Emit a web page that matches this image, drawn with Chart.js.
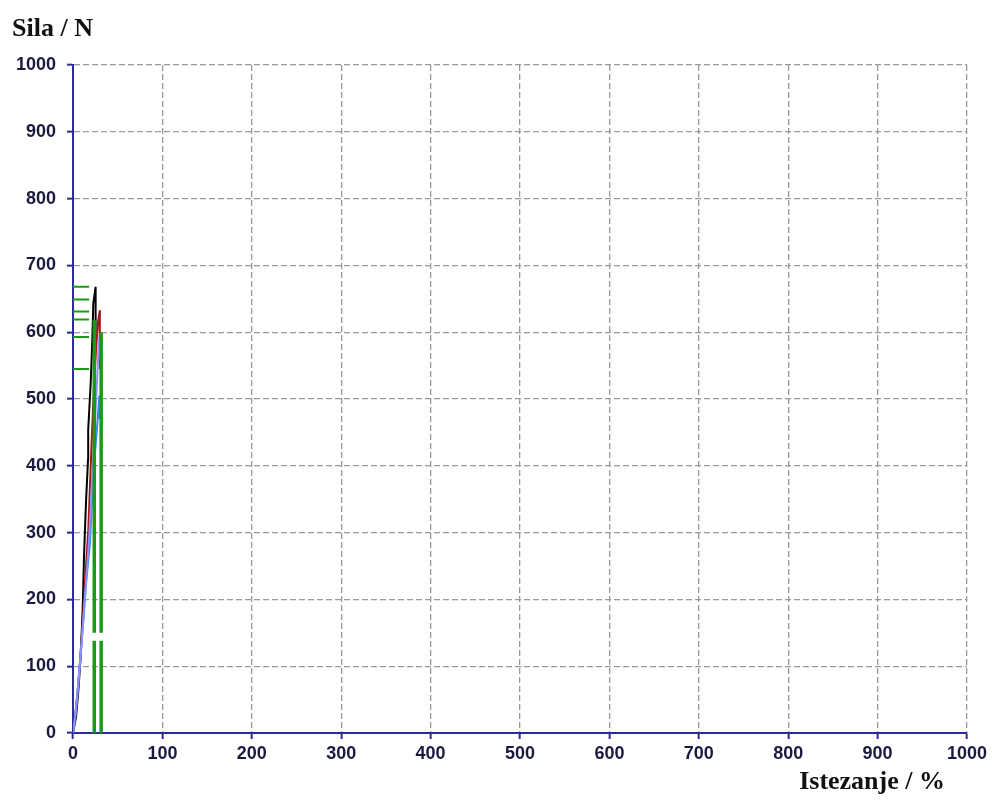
<!DOCTYPE html>
<html>
<head>
<meta charset="utf-8">
<script src="https://cdn.jsdelivr.net/npm/chart.js@4"></script>
<style>
  html, body { margin: 0; padding: 0; background: #fff; }
  #wrap { width: 992px; height: 800px; position: relative; }
</style>
</head>
<body>
<div id="wrap"><canvas id="chart"></canvas></div>
<script>
// Axis ticks
const xTicks = [0, 100, 200, 300, 400, 500, 600, 700, 800, 900, 1000];
const yTicks = [0, 100, 200, 300, 400, 500, 600, 700, 800, 900, 1000];

// Force / elongation curves
const blackX = [0, 1, 3.4, 6, 8.6, 10.8, 12.3, 14.5, 16.8, 17, 19.8, 21.6, 22.7, 25.3, 25.3];
const blackY = [0, 0, 24, 64, 114, 184, 264, 344, 409, 454, 524, 588, 643, 668, 600];

const redX = [0, 2, 5, 8, 11, 14, 17, 19, 21, 23.5, 26, 28, 30, 30];
const redY = [0, 20, 60, 110, 170, 240, 300, 370, 440, 520, 580, 615, 633, 545];

const blueX = [0, 3, 7, 11, 15, 19, 21, 24, 27, 29.5, 29.5];
const blueY = [0, 30, 90, 160, 230, 285, 340, 410, 460, 505, 470];

const purpleX = [0, 2.5, 6, 10, 14, 18, 21, 24, 27, 29, 29];
const purpleY = [0, 25, 75, 140, 215, 290, 370, 450, 530, 592, 560];

// Green markers: break lines and max-force levels
const breakX = [23.8, 31.5];
const breakTop = [618, 600];
const breakGap = [138, 150];
const maxLevels = [668, 649, 631, 619, 593, 545];
const levelEndX = 18;

function pts(xs, ys) {
  return xs.map((x, i) => ({ x: x, y: ys[i] }));
}

function curve(xs, ys, color) {
  return {
    data: pts(xs, ys),
    borderColor: color,
    borderWidth: 2,
    pointRadius: 0,
    fill: false,
    tension: 0,
  };
}

// Vertical green break lines with a small white gap
const breakData = [];
breakX.forEach((x, i) => {
  breakData.push({ x: x, y: 0 }, { x: x, y: breakGap[0] }, { x: null, y: null });
  breakData.push({ x: x, y: breakGap[1] }, { x: x, y: breakTop[i] }, { x: null, y: null });
});

// Horizontal green level markers
const levelData = [];
maxLevels.forEach((v) => {
  levelData.push({ x: 0, y: v }, { x: levelEndX, y: v }, { x: null, y: null });
});

const axisBlue = "#2b2b9c";
const tickFont = { family: "'Liberation Sans', Arial, sans-serif", size: 18, weight: "bold" };

const titlesPlugin = {
  id: "titles",
  afterDraw(chart) {
    const c = chart.ctx;
    c.save();
    c.fillStyle = "#111";
    c.font = "bold 26px 'Liberation Serif', 'Times New Roman', serif";
    c.textBaseline = "alphabetic";
    c.textAlign = "left";
    c.fillText("Sila / N", 12, 36);
    c.textAlign = "right";
    c.fillText("Istezanje / %", 945, 789);
    c.restore();
  },
};

new Chart(document.getElementById("chart"), {
  type: "line",
  data: {
    datasets: [
      {
        data: breakData,
        borderColor: "#1a9a1a",
        borderWidth: 3.5,
        pointRadius: 0,
        spanGaps: false,
      },
      {
        data: levelData,
        borderColor: "#1a9a1a",
        borderWidth: 2,
        pointRadius: 0,
        spanGaps: false,
      },
      curve(purpleX, purpleY, "#8f8fff"),
      curve(blueX, blueY, "#2f8fe8"),
      curve(redX, redY, "#a31515"),
      curve(blackX, blackY, "#000000"),
    ],
  },
  options: {
    responsive: true,
    maintainAspectRatio: false,
    animation: false,
    layout: { padding: { left: 0, top: 65, right: 25, bottom: 0 } },
    plugins: {
      legend: { display: false },
      tooltip: { enabled: false },
    },
    scales: {
      x: {
        type: "linear",
        min: 0,
        max: 1000,
        afterBuildTicks: (scale) => {
          scale.ticks = xTicks.map((v) => ({ value: v }));
        },
        afterFit: (scale) => {
          scale.height = 67;
        },
        ticks: {
          font: tickFont,
          color: "#1a1a40",
          padding: 4,
          maxRotation: 0,
          callback: (v) => String(v),
        },
        grid: { color: "#999", lineWidth: 1.3, tickColor: axisBlue, tickLength: 6, tickWidth: 2 },
        border: { display: true, color: axisBlue, width: 2, dash: [6, 3] },
      },
      y: {
        type: "linear",
        min: 0,
        max: 1000,
        afterBuildTicks: (scale) => {
          scale.ticks = yTicks.map((v) => ({ value: v }));
        },
        afterFit: (scale) => {
          scale.width = 73;
        },
        ticks: { font: tickFont, color: "#1a1a40", padding: 11, callback: (v) => String(v) },
        grid: { color: "#999", lineWidth: 1.3, tickColor: axisBlue, tickLength: 6, tickWidth: 2 },
        border: { display: true, color: axisBlue, width: 2, dash: [6, 3] },
      },
    },
  },
  plugins: [titlesPlugin],
});
</script>
</body>
</html>
